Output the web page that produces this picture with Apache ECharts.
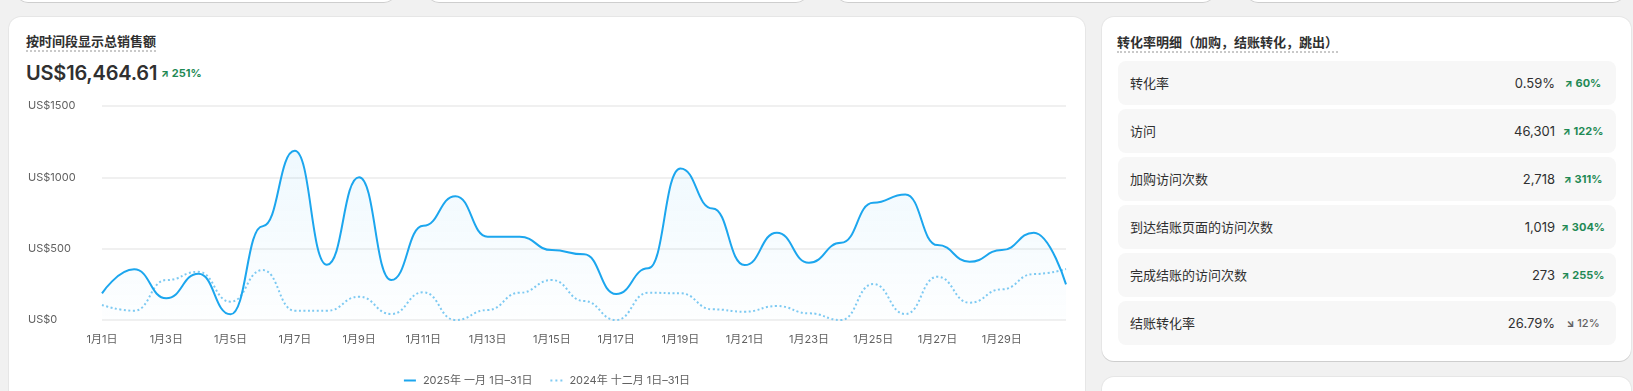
<!DOCTYPE html>
<html><head><meta charset="utf-8">
<script src="https://cdn.jsdelivr.net/npm/echarts@6/dist/echarts.min.js"></script>
<style>
html,body{margin:0;padding:0;background:#f1f1f1;width:1633px;height:391px;overflow:hidden;font-family:Inter,"Noto Sans CJK SC",sans-serif;color:#303030;}
.card{position:absolute;background:#fff;border-radius:12px;box-shadow:0 1px 0 rgba(0,0,0,0.10),0 0 0 1px rgba(0,0,0,0.045);overflow:hidden;}
.ttl{position:absolute;font-size:13px;font-weight:700;line-height:18px;color:#303030;border-bottom:2px dotted #c9c9c9;white-space:nowrap;}
.big{position:absolute;font-size:20px;font-weight:600;line-height:26px;letter-spacing:-0.2px;color:#303030;}
.delta{position:absolute;font-size:11px;font-weight:700;color:#1f8a55;white-space:nowrap;}
.row{position:absolute;left:16px;width:498px;height:44px;border-radius:8px;background:#f7f7f7;}
.row .lab{position:absolute;left:12px;top:0;line-height:44px;font-size:13px;color:#303030;}
.row .val{position:absolute;right:61px;top:0;line-height:44px;font-size:13px;color:#303030;}
.row .bd{position:absolute;left:443px;width:44px;top:0;line-height:44px;font-size:11px;font-weight:700;color:#1f8a55;text-align:center;white-space:nowrap;}
.row .bd.dn{color:#616161;font-weight:500;}
.arr{font-size:10px;font-weight:800;margin-right:3px;}
</style></head>
<body>
<div class="card" style="left:16px;top:-30px;width:380px;height:32px;"></div>
<div class="card" style="left:427px;top:-30px;width:381px;height:32px;"></div>
<div class="card" style="left:836px;top:-30px;width:379px;height:32px;"></div>
<div class="card" style="left:1246px;top:-30px;width:379px;height:32px;"></div>

<div class="card" id="left" style="left:9px;top:17px;width:1076px;height:400px;">
  <div class="ttl" style="left:17px;top:15px;">按时间段显示总销售额</div>
  <div class="big" style="left:17px;top:43px;">US$16,464.61</div>
  <div class="delta" style="left:152px;top:49px;"><span class="arr">↗</span>251%</div>
  <div id="chart" style="position:absolute;left:0;top:0;width:1076px;height:374px;"></div>
</div>

<div class="card" style="left:1102px;top:17px;width:529px;height:344px;">
  <div class="ttl" style="left:15px;top:16px;">转化率明细（加购，结账转化，跳出）</div>
  <div id="rows"></div>
</div>
<div class="card" style="left:1102px;top:377px;width:529px;height:60px;"></div>

<script>
// ---- data ----
const categories = ['1月1日','1月2日','1月3日','1月4日','1月5日','1月6日','1月7日','1月8日','1月9日','1月10日',
  '1月11日','1月12日','1月13日','1月14日','1月15日','1月16日','1月17日','1月18日','1月19日','1月20日',
  '1月21日','1月22日','1月23日','1月24日','1月25日','1月26日','1月27日','1月28日','1月29日','1月30日','1月31日'];
const sales2025 = [187,355,152,324,40,658,1186,387,1001,280,660,868,584,584,490,460,182,362,1062,782,385,612,401,541,822,880,525,408,490,612,250];
const sales2024 = [105,65,280,338,128,350,65,65,163,42,194,0,70,191,280,133,0,191,187,75,58,98,47,0,252,42,303,121,215,322,357];
const seriesNames = ['2025年 一月 1日–31日','2024年 十二月 1日–31日'];
const yTicks = [0,500,1000,1500];

const rowLabels = ['转化率','访问','加购访问次数','到达结账页面的访问次数','完成结账的访问次数','结账转化率'];
const rowValues = ['0.59%','46,301','2,718','1,019','273','26.79%'];
const rowChanges = ['60%','122%','311%','304%','255%','12%'];
const rowUp = [true,true,true,true,true,false];

// ---- side panel ----
const rowsEl = document.getElementById('rows');
rowLabels.forEach((l,i)=>{
  const d = document.createElement('div');
  d.className='row'; d.style.top=(44+i*48)+'px';
  d.innerHTML='<span class="lab">'+l+'</span><span class="val">'+rowValues[i]+'</span>'+
    '<span class="bd'+(rowUp[i]?'':' dn')+'"><span class="arr">'+(rowUp[i]?'↗':'↘')+'</span>'+rowChanges[i]+'</span>';
  rowsEl.appendChild(d);
});

// ---- chart ----
const blue = '#1ca6ee';
const lightBlue = '#7fcaf2';
const chart = echarts.init(document.getElementById('chart'), null, {renderer:'canvas'});
chart.setOption({
  animation:false,
  textStyle:{fontFamily:'Inter, "Noto Sans CJK SC", sans-serif'},
  grid:{left:93,right:19,top:89,bottom:71,containLabel:false},
  legend:{
    left:'center', top:353, itemWidth:12, itemHeight:2, itemGap:18,
    textStyle:{fontSize:11,color:'#616161',padding:[0,0,0,2]},
    data:[
      {name:seriesNames[0], icon:'path://M0,0H12V2H0Z', itemStyle:{color:blue}},
      {name:seriesNames[1], icon:'path://M0,0H2V2H0Z M5,0H7V2H5Z M10,0H12V2H10Z', itemStyle:{color:lightBlue}}
    ]
  },
  xAxis:{
    type:'category', data:categories, boundaryGap:false,
    axisLine:{show:false}, axisTick:{show:false},
    axisLabel:{fontSize:11,color:'#616161',margin:14,
      interval:function(idx){return idx%2===0 && idx<categories.length-1;}},
    splitLine:{show:false}
  },
  yAxis:{
    type:'value', min:yTicks[0], max:yTicks[yTicks.length-1], interval:500,
    axisLine:{show:false}, axisTick:{show:false},
    axisLabel:{fontSize:11,color:'#616161',align:'left',margin:74,formatter:v=>'US$'+v},
    splitLine:{lineStyle:{color:'#f0f0f0',width:2}}
  },
  series:[
    {
      name:seriesNames[0], type:'line', data:sales2025, symbol:'none',
      smooth:0.5, smoothMonotone:'x', z:3,
      lineStyle:{color:blue,width:2},
      itemStyle:{color:blue},
      areaStyle:{color:new echarts.graphic.LinearGradient(0,0,0,1,[
        {offset:0,color:'rgba(28,166,238,0.10)'},
        {offset:1,color:'rgba(28,166,238,0.01)'}])}
    },
    {
      name:seriesNames[1], type:'line', data:sales2024, symbol:'none',
      smooth:0.5, smoothMonotone:'x', z:2,
      lineStyle:{color:lightBlue,width:2,type:[2,2.5]},
      itemStyle:{color:lightBlue}
    }
  ]
});
</script>
</body></html>
